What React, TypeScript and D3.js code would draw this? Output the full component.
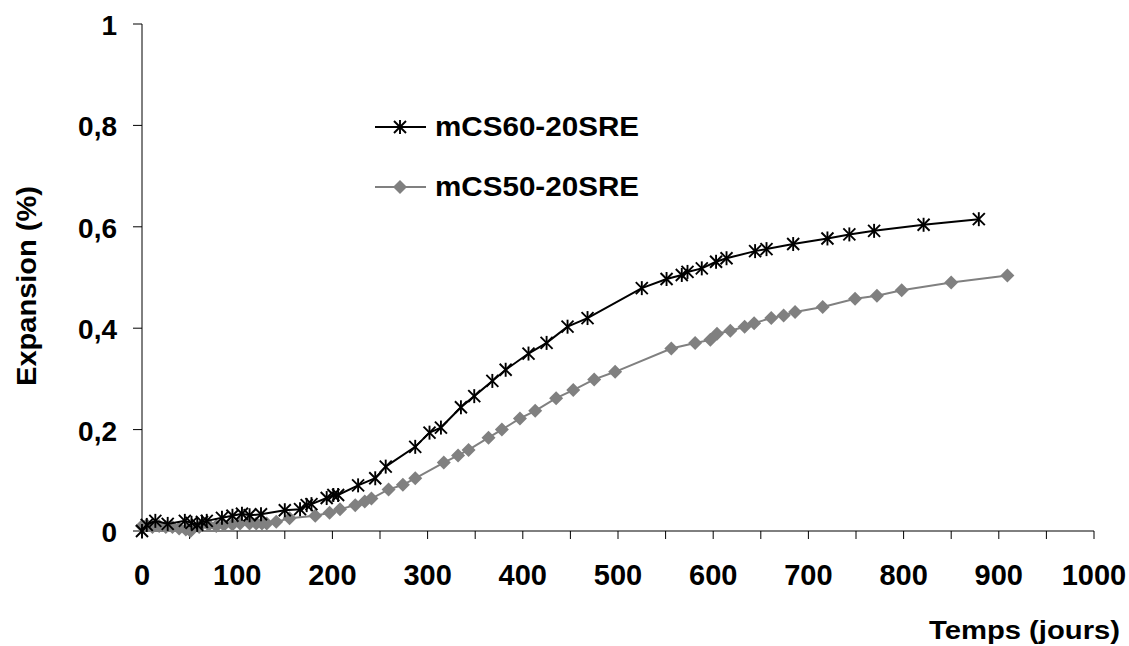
import React from "react";
import * as d3 from "d3";

const xTickLabels = [0, 100, 200, 300, 400, 500, 600, 700, 800, 900, 1000];
const xMinorTicks = d3.range(0, 1001, 50);
const yTickValues = [0, 0.2, 0.4, 0.6, 0.8, 1];
const yTickLabels = ["0", "0,2", "0,4", "0,6", "0,8", "1"];

const seriesNames = ["mCS60-20SRE", "mCS50-20SRE"];

const daysA = [0, 5, 14, 27, 45, 52, 58, 63, 68, 84, 95, 105, 113, 125, 150, 166, 173, 178, 194, 201, 206, 227, 245, 256, 287, 302, 314, 335, 349, 368, 382, 406, 425, 447, 468, 525, 551, 567, 573, 588, 603, 614, 644, 656, 684, 720, 743, 769, 821, 879];
const valsA = [0.0, 0.012, 0.02, 0.014, 0.02, 0.016, 0.012, 0.018, 0.02, 0.026, 0.03, 0.034, 0.031, 0.033, 0.041, 0.043, 0.051, 0.053, 0.065, 0.071, 0.071, 0.09, 0.104, 0.127, 0.166, 0.194, 0.204, 0.244, 0.266, 0.296, 0.318, 0.35, 0.371, 0.403, 0.42, 0.479, 0.497, 0.505, 0.511, 0.518, 0.531, 0.538, 0.552, 0.556, 0.566, 0.577, 0.585, 0.592, 0.604, 0.615];

const daysB = [0, 5, 11, 18, 25, 32, 39, 46, 51, 60, 70, 78, 86, 95, 103, 113, 120, 126, 131, 141, 155, 182, 197, 208, 224, 234, 241, 259, 274, 287, 317, 332, 343, 364, 378, 397, 413, 435, 453, 475, 497, 556, 581, 597, 604, 618, 633, 643, 661, 674, 686, 715, 749, 772, 798, 850, 909];
const valsB = [0.01, 0.012, 0.008, 0.01, 0.008, 0.008, 0.005, 0.003, 0.0, 0.008, 0.012, 0.01, 0.012, 0.013, 0.015, 0.015, 0.015, 0.015, 0.015, 0.018, 0.025, 0.03, 0.036, 0.043, 0.051, 0.058, 0.064, 0.082, 0.091, 0.104, 0.135, 0.149, 0.16, 0.184, 0.2, 0.222, 0.237, 0.262, 0.278, 0.299, 0.314, 0.36, 0.371, 0.377, 0.389, 0.395, 0.403, 0.41, 0.42, 0.425, 0.432, 0.442, 0.458, 0.464, 0.475, 0.49, 0.504];

const W = 1129;
const H = 646;
const FONT = "'Liberation Sans', Arial, sans-serif";

const x = d3.scaleLinear().domain([0, 1000]).range([142, 1094]);
const y = d3.scaleLinear().domain([0, 1]).range([531, 24]);

const BLACK = "#000000";
const GREY = "#808080";

function Asterisk({ cx, cy }: { cx: number; cy: number }) {
  const r = 6;
  return (
    <g stroke={BLACK} strokeWidth={1.9}>
      <line x1={cx - r} y1={cy - r} x2={cx + r} y2={cy + r} />
      <line x1={cx - r} y1={cy + r} x2={cx + r} y2={cy - r} />
      <line x1={cx} y1={cy - r - 1} x2={cx} y2={cy + r + 1} />
    </g>
  );
}

function Diamond({ cx, cy }: { cx: number; cy: number }) {
  const r = 7;
  return <path d={`M${cx},${cy - r}L${cx + r},${cy}L${cx},${cy + r}L${cx - r},${cy}Z`} fill={GREY} />;
}

export default function App() {
  const dataA = daysA.map((d, i) => [d, valsA[i]] as [number, number]);
  const dataB = daysB.map((d, i) => [d, valsB[i]] as [number, number]);
  const line = d3
    .line<[number, number]>()
    .x((d) => x(d[0]))
    .y((d) => y(d[1]));

  return (
    <svg
      width={W}
      height={H}
      style={{ position: "fixed", left: 0, top: 0, background: "#fff" }}
      fontFamily={FONT}
      fontWeight="bold"
    >
      <rect x={0} y={0} width={W} height={H} fill="#fff" />
      {/* axes */}
      <line x1={x(0)} y1={y(0)} x2={x(1000)} y2={y(0)} stroke="#000" strokeWidth={1} />
      <line x1={x(0)} y1={y(0)} x2={x(0)} y2={y(1)} stroke="#000" strokeWidth={1} />
      {xMinorTicks.map((t) => (
        <line key={"xt" + t} x1={x(t)} x2={x(t)} y1={y(0)} y2={y(0) + 8} stroke="#000" strokeWidth={1} />
      ))}
      {yTickValues.map((t) => (
        <line key={"yt" + t} x1={x(0) - 9} x2={x(0)} y1={y(t)} y2={y(t)} stroke="#000" strokeWidth={1} />
      ))}
      {xTickLabels.map((t) => (
        <text key={"xl" + t} x={x(t)} y={585} textAnchor="middle" fontSize={29} fill="#000">
          {t}
        </text>
      ))}
      {yTickValues.map((t, i) => (
        <text key={"yl" + t} x={117} y={y(t) + 11} textAnchor="end" fontSize={28} fill="#000">
          {yTickLabels[i]}
        </text>
      ))}
      <text x={1120} y={639} textAnchor="end" fontSize={26} fill="#000" textLength={191} lengthAdjust="spacingAndGlyphs">
        Temps (jours)
      </text>
      <text
        transform="translate(36,286) rotate(-90)"
        textAnchor="middle"
        fontSize={27}
        fill="#000"
        textLength={200}
        lengthAdjust="spacingAndGlyphs"
      >
        Expansion (%)
      </text>

      {/* series */}
      <path d={line(dataB) || ""} fill="none" stroke={GREY} strokeWidth={2} />
      {dataB.map((d, i) => (
        <Diamond key={"b" + i} cx={x(d[0])} cy={y(d[1])} />
      ))}
      <path d={line(dataA) || ""} fill="none" stroke={BLACK} strokeWidth={2} />
      {dataA.map((d, i) => (
        <Asterisk key={"a" + i} cx={x(d[0])} cy={y(d[1])} />
      ))}

      {/* legend */}
      <line x1={375} x2={426} y1={127} y2={127} stroke={BLACK} strokeWidth={2} />
      <Asterisk cx={400} cy={127} />
      <text x={435} y={136} fontSize={27} fill="#000" textLength={204} lengthAdjust="spacingAndGlyphs">
        {seriesNames[0]}
      </text>
      <line x1={375} x2={426} y1={187} y2={187} stroke={GREY} strokeWidth={2} />
      <Diamond cx={400} cy={187} />
      <text x={435} y={196} fontSize={27} fill="#000" textLength={204} lengthAdjust="spacingAndGlyphs">
        {seriesNames[1]}
      </text>
    </svg>
  );
}
